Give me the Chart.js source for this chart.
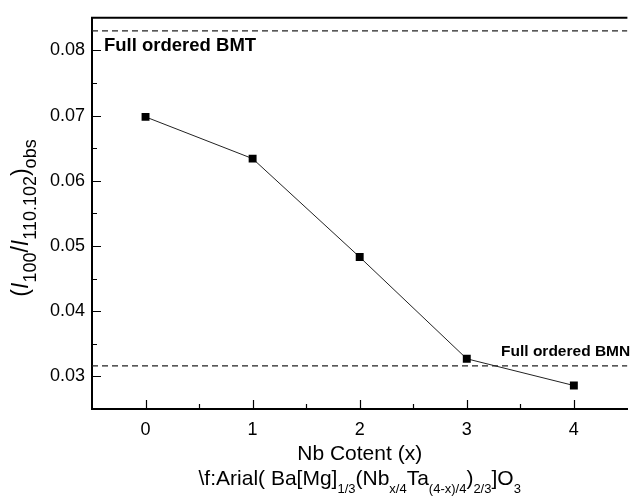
<!DOCTYPE html>
<html>
<head>
<meta charset="utf-8">
<script src="https://cdn.jsdelivr.net/npm/chart.js@4.4.1/dist/chart.umd.min.js"></script>
<style>
  html, body { margin: 0; padding: 0; background: #fff; overflow: hidden; }
  #wrap { position: relative; width: 633px; height: 497px; }
</style>
</head>
<body>
<div id="wrap"><canvas id="chart"></canvas></div>
<script>
// -----------------------
// Data
// -----------------------
const nbContent = [0, 1, 2, 3, 4];
const intensityRatio = [0.0698, 0.0634, 0.0483, 0.0327, 0.0286];
const orderedBMT = 0.083;
const orderedBMN = 0.0316;
const xTicks = [0, 1, 2, 3, 4];
const yTicks = [0.03, 0.04, 0.05, 0.06, 0.07, 0.08];
const xRange = [-0.5, 4.5];
const yRange = [0.025, 0.085];

const FONT = '"Liberation Sans", Arial, Helvetica, sans-serif';
const INK = '#000';

// draw a row of text pieces (normal / italic / subscript) centred at x
function drawRich(ctx, parts, x, y) {
  let total = 0;
  parts.forEach(p => {
    ctx.font = p.font;
    p.w = ctx.measureText(p.t).width;
    total += p.w;
  });
  let cx = x - total / 2;
  ctx.textAlign = 'left';
  ctx.textBaseline = 'alphabetic';
  parts.forEach(p => {
    ctx.font = p.font;
    ctx.fillText(p.t, cx, y + (p.dy || 0));
    cx += p.w;
  });
}

const main = `21px ${FONT}`;
const subSmall = `13px ${FONT}`;
const yMain = `23px ${FONT}`;
const yItal = `italic 23px ${FONT}`;
const ySub = `18px ${FONT}`;

const decorations = {
  id: 'decorations',
  afterDraw(chart) {
    const ctx = chart.ctx;
    const { left, right, top, bottom } = chart.chartArea;
    const xs = chart.scales.x, ys = chart.scales.y;
    ctx.save();
    ctx.strokeStyle = INK;
    ctx.fillStyle = INK;

    // top frame line
    ctx.lineWidth = 2;
    ctx.beginPath();
    ctx.moveTo(left - 1, top);
    ctx.lineTo(right, top);
    ctx.stroke();

    // inward ticks, major + minor
    ctx.lineWidth = 1.2;
    ctx.beginPath();
    yTicks.forEach(v => {
      const py = Math.round(ys.getPixelForValue(v)) + 0.5;
      ctx.moveTo(left, py); ctx.lineTo(left + 9, py);
      const m = v + 0.005;
      if (m < yRange[1] - 1e-9) {
        const pm = Math.round(ys.getPixelForValue(m)) + 0.5;
        ctx.moveTo(left, pm); ctx.lineTo(left + 5, pm);
      }
    });
    xTicks.forEach(v => {
      const px = Math.round(xs.getPixelForValue(v)) + 0.5;
      ctx.moveTo(px, bottom); ctx.lineTo(px, bottom - 9);
      const m = v + 0.5;
      if (m < xRange[1] - 1e-9) {
        const pm = Math.round(xs.getPixelForValue(m)) + 0.5;
        ctx.moveTo(pm, bottom); ctx.lineTo(pm, bottom - 5);
      }
    });
    ctx.stroke();

    // reference line labels
    ctx.textAlign = 'left';
    ctx.textBaseline = 'alphabetic';
    ctx.font = `bold 18.5px ${FONT}`;
    ctx.fillText('Full ordered BMT', left + 12, ys.getPixelForValue(orderedBMT) + 20);
    ctx.font = `bold 15.5px ${FONT}`;
    ctx.fillText('Full ordered BMN', xs.getPixelForValue(3.32), ys.getPixelForValue(orderedBMN) - 10);

    // x axis titles
    const midX = (left + right) / 2;
    drawRich(ctx, [{ t: 'Nb Cotent (x)', font: main }], midX, bottom + 51);
    drawRich(ctx, [
      { t: '\\f:Arial( Ba[Mg]', font: main },
      { t: '1/3', font: subSmall, dy: 8 },
      { t: '(Nb', font: main },
      { t: 'x/4', font: subSmall, dy: 8 },
      { t: 'Ta', font: main },
      { t: '(4-x)/4', font: subSmall, dy: 8 },
      { t: ')', font: main },
      { t: '2/3', font: subSmall, dy: 8 },
      { t: ']O', font: main },
      { t: '3', font: subSmall, dy: 8 }
    ], midX, bottom + 76);

    // y axis title, rotated
    ctx.translate(28, 218);
    ctx.rotate(-Math.PI / 2);
    drawRich(ctx, [
      { t: '(', font: yMain },
      { t: 'I', font: yItal },
      { t: '100', font: ySub, dy: 8 },
      { t: '/', font: yMain },
      { t: 'I', font: yItal },
      { t: '110.102', font: ySub, dy: 8 },
      { t: ')', font: yMain },
      { t: 'obs', font: ySub, dy: 8 }
    ], 0, 0);
    ctx.restore();
  }
};

new Chart(document.getElementById('chart'), {
  type: 'scatter',
  data: {
    datasets: [
      {
        data: nbContent.map((x, i) => ({ x, y: intensityRatio[i] })),
        showLine: true,
        borderColor: '#222',
        borderWidth: 1,
        pointStyle: 'rect',
        pointRadius: 5.6,
        pointBackgroundColor: INK,
        pointBorderColor: INK,
        pointBorderWidth: 0
      },
      {
        data: xRange.map(x => ({ x, y: orderedBMT })),
        showLine: true,
        borderColor: '#222',
        borderWidth: 1.2,
        borderDash: [6, 4],
        pointRadius: 0
      },
      {
        data: xRange.map(x => ({ x, y: orderedBMN })),
        showLine: true,
        borderColor: '#222',
        borderWidth: 1.2,
        borderDash: [6, 4],
        pointRadius: 0
      }
    ]
  },
  options: {
    responsive: true,
    maintainAspectRatio: false,
    animation: false,
    layout: { padding: { top: 10, right: 1, left: 0, bottom: 0 } },
    plugins: { legend: { display: false }, tooltip: { enabled: false } },
    scales: {
      x: {
        type: 'linear',
        min: xRange[0],
        max: xRange[1],
        afterBuildTicks: s => { s.ticks = xTicks.map(v => ({ value: v })); },
        afterFit: s => { s.height = 88; },
        grid: { drawOnChartArea: false, drawTicks: false },
        border: { display: true, color: INK, width: 2 },
        ticks: { color: INK, font: { family: FONT, size: 18 }, padding: 10, callback: v => String(v) }
      },
      y: {
        type: 'linear',
        min: yRange[0],
        max: yRange[1],
        afterBuildTicks: s => { s.ticks = yTicks.map(v => ({ value: v })); },
        afterFit: s => { s.width = 92; },
        grid: { drawOnChartArea: false, drawTicks: false },
        border: { display: true, color: INK, width: 2 },
        ticks: { color: INK, font: { family: FONT, size: 18 }, padding: 7, callback: v => v.toFixed(2) }
      }
    }
  },
  plugins: [decorations]
});
</script>
</body>
</html>
